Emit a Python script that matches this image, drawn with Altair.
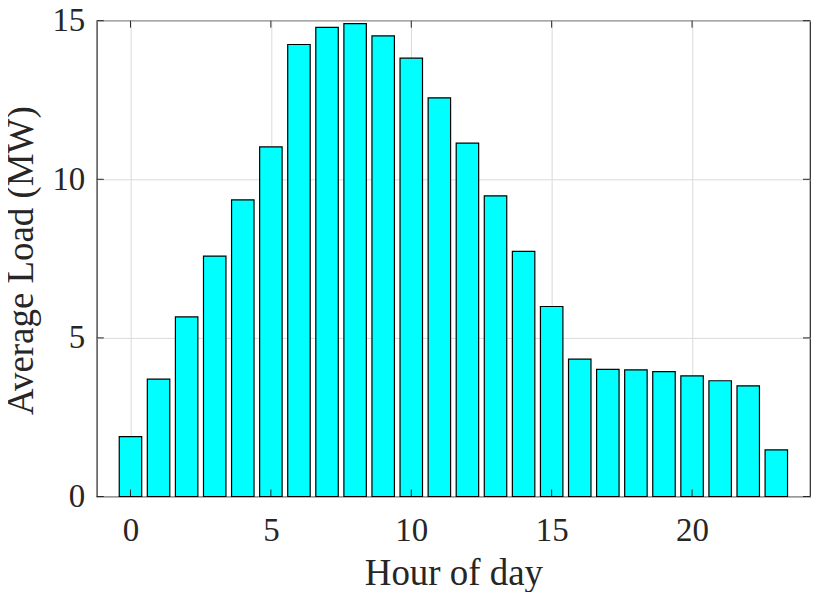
import altair as alt
import pandas as pd

hours = list(range(24))
load = [1.89, 3.70, 5.66, 7.58, 9.35, 11.02, 14.25, 14.79, 14.91, 14.52, 13.82, 12.57,
        11.14, 9.48, 7.73, 5.99, 4.33, 4.01, 3.99, 3.94, 3.80, 3.65, 3.49, 1.47]
x_ticks = [0, 5, 10, 15, 20]
y_ticks = [0, 5, 10, 15]
x_domain = [-1.2, 24.2]
y_domain = [0, 15]
bar_width = 0.8
tick_len_x = 0.25   # in x units
tick_len_y = 0.22   # in y units

AX = "#262626"
FONT = "Liberation Serif"

df = pd.DataFrame({"hour": hours, "load": load})

xs = alt.Scale(domain=x_domain, nice=False, zero=False)
ys = alt.Scale(domain=y_domain, nice=False, zero=False)

xaxis = alt.Axis(values=x_ticks, title="Hour of day", grid=True, labelPadding=18,
                 titleX=357.5, titleY=88, titleBaseline="alphabetic", titleAlign="center")
yaxis = alt.Axis(values=y_ticks, title="Average Load (MW)", grid=True, labelPadding=12,
                 titleX=-56, titleY=240, titleAngle=-90, titleBaseline="bottom",
                 titleAlign="center")

bars = alt.Chart(df).transform_calculate(
    x0=f"datum.hour - {bar_width/2}", x1=f"datum.hour + {bar_width/2}"
).mark_bar(fill="#00FFFF", stroke="#000000", strokeWidth=1.2).encode(
    x=alt.X("x0:Q", scale=xs, axis=xaxis),
    x2="x1:Q",
    y=alt.Y("load:Q", scale=ys, axis=yaxis),
    y2=alt.datum(0),
)

xt = pd.DataFrame({"t": x_ticks})
yt = pd.DataFrame({"t": y_ticks})

bottom_ticks = alt.Chart(xt).mark_rule(color=AX, strokeWidth=1).encode(
    x=alt.X("t:Q", scale=xs, axis=xaxis),
    y=alt.datum(y_domain[0]), y2=alt.datum(y_domain[0] + tick_len_y))
top_ticks = alt.Chart(xt).mark_rule(color=AX, strokeWidth=1).encode(
    x=alt.X("t:Q", scale=xs, axis=xaxis),
    y=alt.datum(y_domain[1]), y2=alt.datum(y_domain[1] - tick_len_y))
left_ticks = alt.Chart(yt).mark_rule(color=AX, strokeWidth=1).encode(
    y=alt.Y("t:Q", scale=ys, axis=yaxis),
    x=alt.datum(x_domain[0]), x2=alt.datum(x_domain[0] + tick_len_x))
right_ticks = alt.Chart(yt).mark_rule(color=AX, strokeWidth=1).encode(
    y=alt.Y("t:Q", scale=ys, axis=yaxis),
    x=alt.datum(x_domain[1]), x2=alt.datum(x_domain[1] - tick_len_x))

chart = alt.layer(bars, bottom_ticks, top_ticks, left_ticks, right_ticks).properties(
    width=715, height=477,
    background="white",
    autosize=alt.AutoSizeParams(type="none"),
    padding={"left": 89, "top": 12, "right": 2, "bottom": 95},
).configure_view(
    stroke=AX, strokeWidth=1.2
).configure_axis(
    domain=False, ticks=False, grid=True, gridColor="#dadada", gridWidth=1,
    labelFont=FONT, labelFontSize=33, labelColor=AX,
    titleFont=FONT, titleFontSize=37, titleFontWeight="normal", titleColor=AX,
)

chart.save("out.html", embed_options={"renderer": "svg", "actions": False})
